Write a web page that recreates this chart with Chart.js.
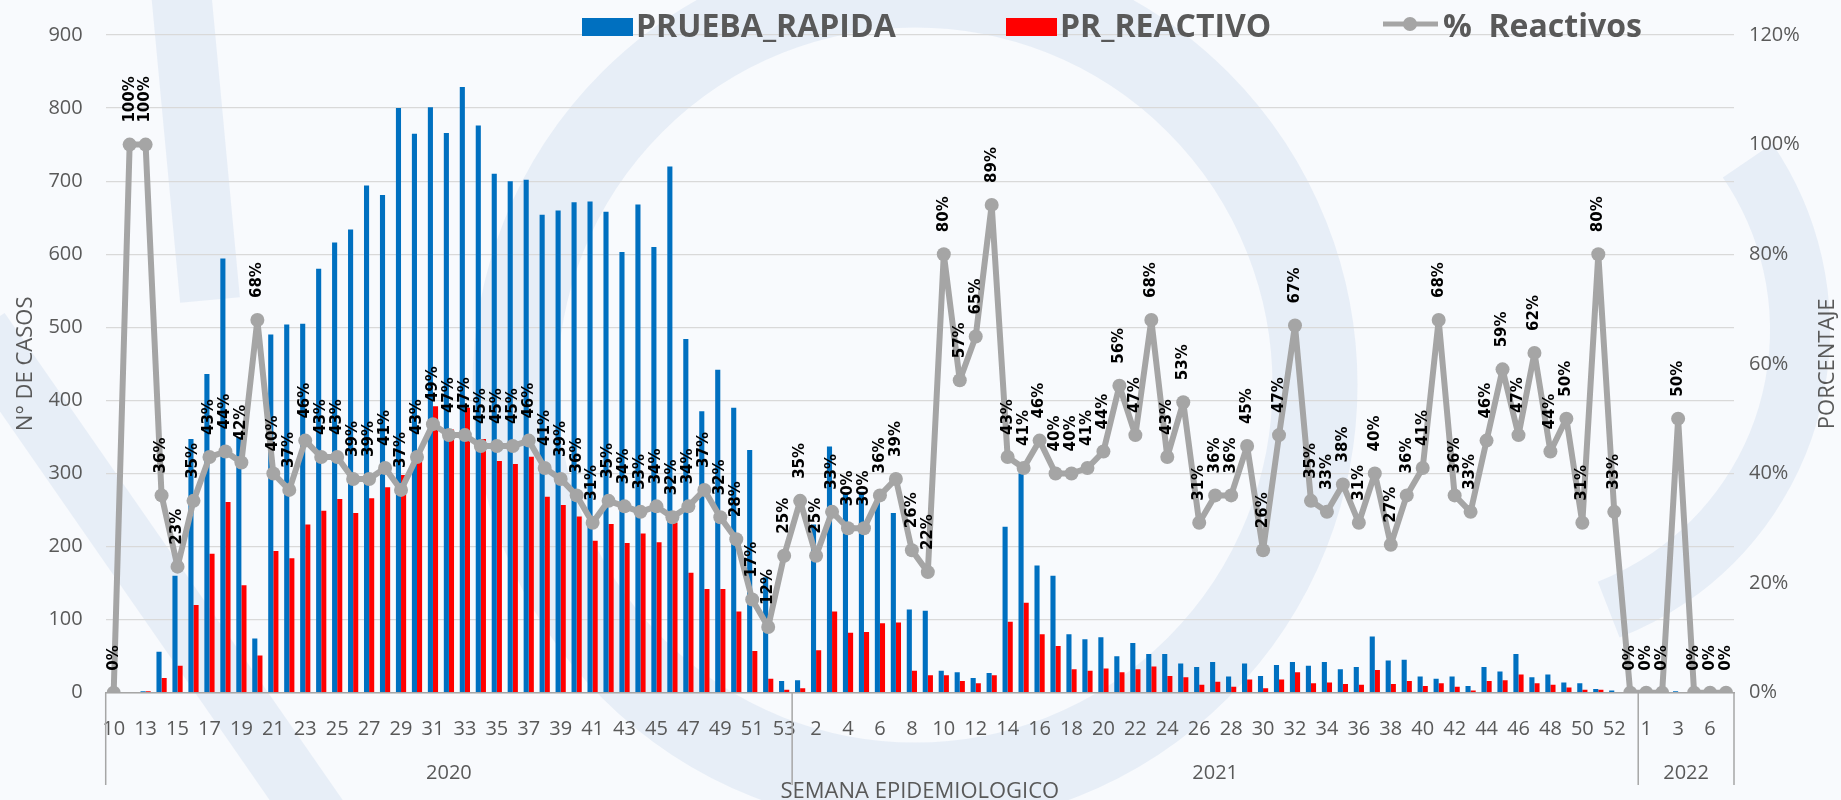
<!DOCTYPE html>
<html>
<head>
<meta charset="utf-8">
<title>Pruebas rápidas por semana epidemiológica</title>
<script src="https://cdn.jsdelivr.net/npm/chart.js@4.4.1/dist/chart.umd.min.js"></script>
<style>
  html, body { margin: 0; padding: 0; background: #f7f9fc; }
  #wrap { width: 1841px; height: 800px; }
</style>
</head>
<body>
<div id="wrap"><canvas id="chart" width="1841" height="800"></canvas></div>
<script>
// semanas epidemiologicas por año
const weeks2020 = [10, 12, 13, 14, 15, 16, 17, 18, 19, 20, 21, 22, 23, 24, 25, 26, 27, 28, 29, 30,
  31, 32, 33, 34, 35, 36, 37, 38, 39, 40, 41, 42, 43, 44, 45, 46, 47, 48, 49, 50, 51, 52, 53];
const weeks2021 = [1, 2, 3, 4, 5, 6, 7, 8, 9, 10, 11, 12, 13, 14, 15, 16, 17, 18, 19, 20,
  21, 22, 23, 24, 25, 26, 27, 28, 29, 30, 31, 32, 33, 34, 35, 36, 37, 38, 39, 40,
  41, 42, 43, 44, 45, 46, 47, 48, 49, 50, 51, 52, 53];
const weeks2022 = [1, 2, 3, 4, 6, 7];
const years = ["2020", "2021", "2022"];

const pruebaRapida = [
  1, 1, 2, 56, 160, 347, 436, 594, 350, 74,
  490, 504, 505, 580, 616, 634, 694, 681, 800, 765,
  801, 766, 829, 776, 710, 700, 702, 654, 660, 671,
  672, 658, 603, 668, 610, 720, 484, 385, 442, 390,
  332, 158, 16, 17, 230, 337, 272, 275, 262, 246,
  114, 112, 30, 28, 20, 27, 227, 300, 174, 160,
  80, 73, 76, 50, 68, 53, 53, 40, 35, 42,
  22, 40, 23, 38, 42, 37, 42, 32, 35, 77,
  44, 45, 22, 19, 22, 9, 35, 29, 53, 21,
  25, 14, 13, 5, 3, 1, 0, 0, 2, 0,
  0, 0
];

const prReactivo = [
  0, 1, 2, 20, 37, 120, 190, 261, 147, 51,
  194, 184, 230, 249, 265, 246, 266, 281, 298, 330,
  392, 360, 390, 347, 317, 313, 323, 268, 257, 241,
  208, 231, 205, 218, 206, 233, 164, 142, 142, 111,
  57, 19, 4, 6, 58, 111, 82, 83, 95, 96,
  30, 24, 24, 16, 13, 24, 97, 123, 80, 64,
  32, 30, 33, 28, 32, 36, 23, 21, 11, 15,
  8, 18, 6, 18, 28, 13, 14, 12, 11, 31,
  12, 16, 9, 13, 8, 3, 16, 17, 25, 13,
  11, 7, 4, 4, 1, 0, 0, 0, 1, 0,
  0, 0
];

const pctReactivos = [
  0, 100, 100, 36, 23, 35, 43, 44, 42, 68,
  40, 37, 46, 43, 43, 39, 39, 41, 37, 43,
  49, 47, 47, 45, 45, 45, 46, 41, 39, 36,
  31, 35, 34, 33, 34, 32, 34, 37, 32, 28,
  17, 12, 25, 35, 25, 33, 30, 30, 36, 39,
  26, 22, 80, 57, 65, 89, 43, 41, 46, 40,
  40, 41, 44, 56, 47, 68, 43, 53, 31, 36,
  36, 45, 26, 47, 67, 35, 33, 38, 31, 40,
  27, 36, 41, 68, 36, 33, 46, 59, 47, 62,
  44, 50, 31, 80, 33, 0, 0, 0, 50, 0,
  0, 0
];

const leftTicks = [0, 100, 200, 300, 400, 500, 600, 700, 800, 900];
const rightTicks = [0, 20, 40, 60, 80, 100, 120];

const yearWeeks = [weeks2020, weeks2021, weeks2022];
const labels = [].concat(...yearWeeks).map(String);

const TXT = "#595959";
const GRID = "#d9d9d9";
const AXIS = "#a6a6a6";

const decor = {
  id: "decor",
  beforeDraw(chart) {
    const { ctx, width, height } = chart;
    ctx.save();
    ctx.fillStyle = "#f8fafd";
    ctx.fillRect(0, 0, width, height);
    // faint watermark
    ctx.strokeStyle = "rgba(220, 230, 243, 0.6)";
    ctx.lineWidth = 85;
    ctx.beginPath();
    ctx.arc(915, 385, 400, 0, Math.PI * 2);
    ctx.stroke();
    ctx.lineWidth = 60;
    ctx.beginPath();
    ctx.arc(1500, 330, 300, -0.6, 1.2);
    ctx.stroke();
    ctx.beginPath();
    ctx.moveTo(-20, 330);
    ctx.lineTo(320, 820);
    ctx.stroke();
    ctx.beginPath();
    ctx.moveTo(180, -20);
    ctx.lineTo(210, 300);
    ctx.stroke();
    ctx.restore();
  },
  afterDatasetsDraw(chart) {
    const ctx = chart.ctx;
    const meta = chart.getDatasetMeta(2);
    ctx.save();
    ctx.font = 'bold 15px "DejaVu Sans"';
    ctx.fillStyle = "#000000";
    ctx.textAlign = "left";
    ctx.textBaseline = "middle";
    meta.data.forEach((pt, i) => {
      ctx.save();
      ctx.translate(pt.x, pt.y - 22);
      ctx.rotate(-Math.PI / 2);
      ctx.fillText(pctReactivos[i] + "%", 0, 0);
      ctx.restore();
    });
    ctx.restore();
  },
  afterDraw(chart) {
    const ctx = chart.ctx;
    const x = chart.scales.x;
    const area = chart.chartArea;
    ctx.save();

    // year groups under the week labels
    ctx.strokeStyle = AXIS;
    ctx.lineWidth = 1.5;
    ctx.fillStyle = TXT;
    ctx.font = '20px "Open Sans"';
    ctx.textAlign = "center";
    ctx.textBaseline = "alphabetic";
    let start = 0;
    const edges = [area.left];
    yearWeeks.forEach((wk, g) => {
      const end = start + wk.length - 1;
      const a = x.getPixelForValue(start);
      const b = x.getPixelForValue(end);
      ctx.fillText(years[g], (a + b) / 2, 779);
      if (end < labels.length - 1) {
        edges.push((b + x.getPixelForValue(end + 1)) / 2);
      }
      start = end + 1;
    });
    edges.push(area.right);
    edges.forEach((ex) => {
      ctx.beginPath();
      ctx.moveTo(ex, area.bottom);
      ctx.lineTo(ex, 785);
      ctx.stroke();
    });

    ctx.font = '22px "Open Sans"';
    ctx.fillText("SEMANA EPIDEMIOLOGICO", (area.left + area.right) / 2, 798);

    // right axis title
    ctx.save();
    ctx.translate(1828, (area.top + area.bottom) / 2);
    ctx.rotate(-Math.PI / 2);
    ctx.textBaseline = "middle";
    ctx.fillText("PORCENTAJE", 0, 0);
    ctx.restore();

    // legend
    const ds = chart.data.datasets;
    ctx.font = 'bold 32px "Open Sans"';
    ctx.textAlign = "left";
    ctx.fillStyle = ds[0].backgroundColor;
    ctx.fillRect(582, 18, 51, 18);
    ctx.fillStyle = ds[1].backgroundColor;
    ctx.fillRect(1006, 18, 51, 18);
    ctx.strokeStyle = ds[2].borderColor;
    ctx.lineWidth = 5;
    ctx.beginPath();
    ctx.moveTo(1383, 24);
    ctx.lineTo(1438, 24);
    ctx.stroke();
    ctx.fillStyle = ds[2].borderColor;
    ctx.beginPath();
    ctx.arc(1410, 24, 7, 0, Math.PI * 2);
    ctx.fill();
    ctx.fillStyle = TXT;
    ctx.fillText(ds[0].label, 636, 37);
    ctx.fillText(ds[1].label, 1060, 37);
    ctx.fillText(ds[2].label, 1443, 37);

    ctx.restore();
  }
};

new Chart(document.getElementById("chart"), {
  type: "bar",
  data: {
    labels: labels,
    datasets: [
      {
        label: "PRUEBA_RAPIDA",
        data: pruebaRapida,
        backgroundColor: "#0070c0",
        yAxisID: "y",
        order: 1,
        barPercentage: 1,
        categoryPercentage: 0.64,
      },
      {
        label: "PR_REACTIVO",
        data: prReactivo,
        backgroundColor: "#ff0000",
        yAxisID: "y",
        order: 1,
        barPercentage: 1,
        categoryPercentage: 0.64,
      },
      {
        type: "line",
        label: "%  Reactivos",
        data: pctReactivos,
        yAxisID: "y1",
        borderColor: "#a5a5a5",
        backgroundColor: "#a5a5a5",
        borderWidth: 6,
        borderJoinStyle: "round",
        borderCapStyle: "round",
        pointRadius: 7,
        pointBackgroundColor: "#a5a5a5",
        pointBorderColor: "#a5a5a5",
        pointBorderWidth: 0,
        tension: 0,
        order: 0,
      },
    ],
  },
  options: {
    responsive: false,
    animation: false,
    layout: { padding: { top: 30.5, left: 0, right: 0, bottom: 0 } },
    plugins: {
      legend: { display: false },
      tooltip: { enabled: false },
    },
    scales: {
      x: {
        type: "category",
        grid: { display: false, drawTicks: false, tickLength: 0 },
        border: { display: true, color: AXIS, width: 1.5 },
        ticks: {
          autoSkip: false,
          maxRotation: 0,
          minRotation: 0,
          padding: 25,
          color: TXT,
          font: { family: "Open Sans", size: 20 },
          callback: function (value, index) {
            return index % 2 === 0 ? this.getLabelForValue(value) : "";
          },
        },
        afterFit: (s) => { s.height = 107.3; },
      },
      y: {
        position: "left",
        min: leftTicks[0],
        max: leftTicks[leftTicks.length - 1],
        afterBuildTicks: (s) => { s.ticks = leftTicks.map((v) => ({ value: v })); },
        grid: { color: GRID, lineWidth: 1.3, drawTicks: false, tickLength: 0 },
        border: { display: false },
        ticks: {
          padding: 23,
          color: TXT,
          font: { family: "Open Sans", size: 20 },
        },
        title: {
          display: true,
          text: "N° DE CASOS",
          color: TXT,
          font: { family: "Open Sans", size: 22 },
          padding: { top: 13, bottom: 0 },
        },
        afterFit: (s) => { s.width = 105.7; },
      },
      y1: {
        position: "right",
        min: rightTicks[0],
        max: rightTicks[rightTicks.length - 1],
        afterBuildTicks: (s) => { s.ticks = rightTicks.map((v) => ({ value: v })); },
        grid: { display: false, drawTicks: false, tickLength: 0 },
        border: { display: false },
        ticks: {
          padding: 15,
          color: TXT,
          font: { family: "Open Sans", size: 20 },
          callback: (v) => v + "%",
        },
        afterFit: (s) => { s.width = 107; },
      },
    },
  },
  plugins: [decor],
});
</script>
</body>
</html>
